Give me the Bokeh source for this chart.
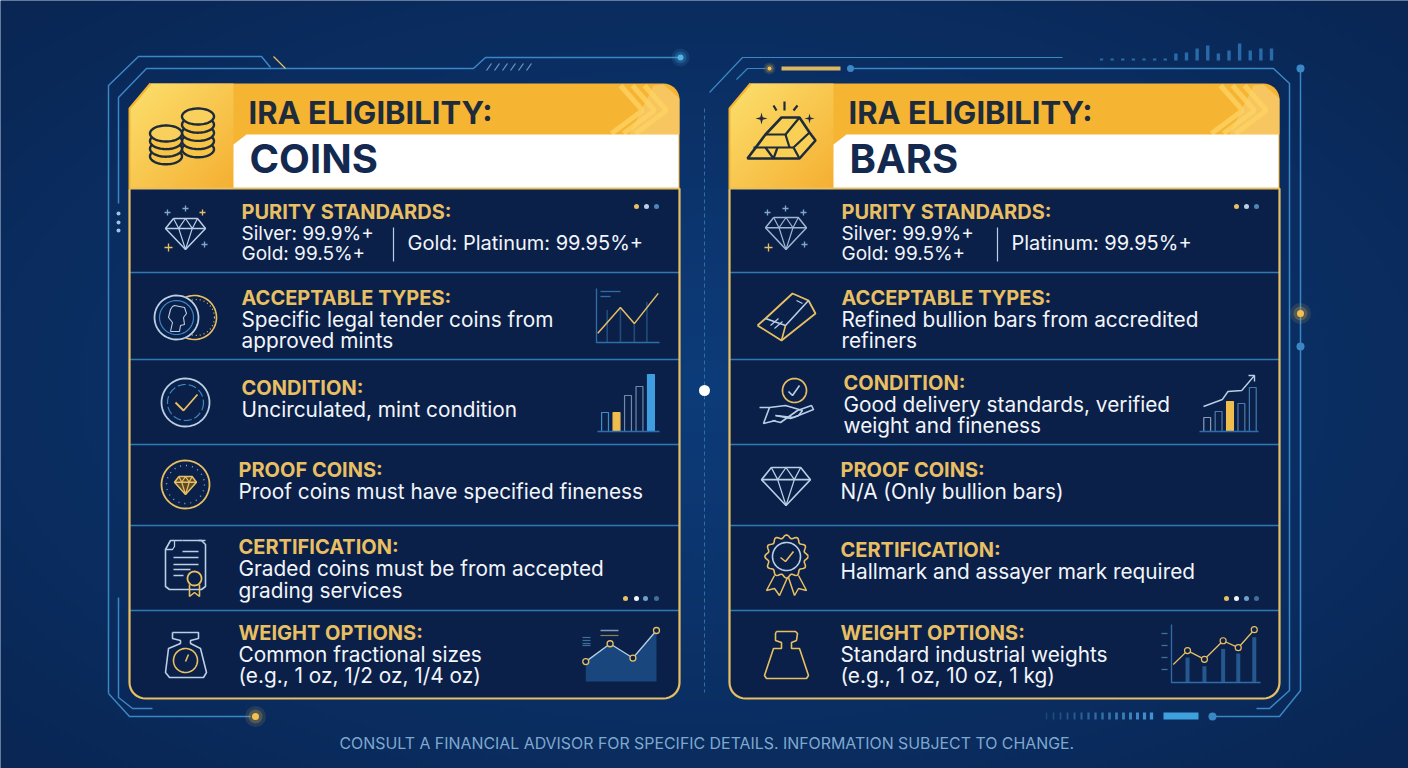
import numpy as np
from bokeh.core.properties import value
from bokeh.embed import file_html
from bokeh.models import Range1d
from bokeh.plotting import figure
from bokeh.resources import INLINE

# texts
footer = "CONSULT A FINANCIAL ADVISOR FOR SPECIFIC DETAILS. INFORMATION SUBJECT TO CHANGE."
title_line = "IRA ELIGIBILITY:"
left_title = "COINS"
right_title = "BARS"
left_heads = ["PURITY STANDARDS:", "ACCEPTABLE TYPES:", "CONDITION:", "PROOF COINS:", "CERTIFICATION:", "WEIGHT OPTIONS:"]
right_heads = ["PURITY STANDARDS:", "ACCEPTABLE TYPES:", "CONDITION:", "PROOF COINS:", "CERTIFICATION:", "WEIGHT OPTIONS:"]
left_body = [
    ["Silver: 99.9%+", "Gold: 99.5%+"],
    ["Specific legal tender coins from", "approved mints"],
    ["Uncirculated, mint condition"],
    ["Proof coins must have specified fineness"],
    ["Graded coins must be from accepted", "grading services"],
    ["Common fractional sizes", "(e.g., 1 oz, 1/2 oz, 1/4 oz)"],
]
right_body = [
    ["Silver: 99.9%+", "Gold: 99.5%+"],
    ["Refined bullion bars from accredited", "refiners"],
    ["Good delivery standards, verified", "weight and fineness"],
    ["N/A (Only bullion bars)"],
    ["Hallmark and assayer mark required"],
    ["Standard industrial weights", "(e.g., 1 oz, 10 oz, 1 kg)"],
]
left_side = "Gold: Platinum: 99.95%+"
right_side = "Platinum: 99.95%+"

# mini chart values
types_x = [2, 38, 60, 98]
types_y = [17, 65, 35, 91]
types_bars_x = [17, 38, 60, 80]
types_bars_y = [60, 65, 35, 75]
cond_left = [19, 19, 36, 45, 57]
weight_left_x = [3, 35, 65, 96]
weight_left_y = [39, 74, 46, 100]
cond_right = [14, 20, 30, 28, 44]
cond_right_line_x = [0, 37, 48, 75, 100]
cond_right_line_y = [25, 32, 40, 41, 56]
weight_right_x = [2, 18, 37, 58, 75, 93]
weight_right_y = [31, 55, 40, 72, 60, 91]
weight_right_bars_x = [18, 37, 58, 75, 93]
weight_right_bars_y = [43, 28, 58, 50, 78]
top_spark = [2, 2, 2, 2, 2, 2, 2, 7, 8, 12, 15, 7, 10, 17, 10, 12, 12]

BG = "#0b3068"
ROW = "#0b2049"
GOLD = "#e8bf62"
AMBER = "#f6b433"
WHITE = "#f2f5fa"
LIGHT = "#b9cfe6"
LINE = "#3b86c4"
SEP = "#2f79b6"
INK = "#1d2b3a"
NAVY = "#14294f"
FONT = "Inter"

p = figure(
    width=1408,
    height=768,
    x_range=(0, 1408),
    y_range=(768, 0),
    x_axis_location=None,
    y_axis_location=None,
    toolbar_location=None,
    output_backend="svg",
    min_border=0,
    outline_line_color=None,
    background_fill_color=BG,
    border_fill_color=BG,
)
p.grid.visible = False


def to_image(rgb, a):
    h, w = a.shape
    img = np.zeros((h, w), dtype=np.uint32)
    view = img.view(np.uint8).reshape((h, w, 4))
    view[..., :3] = rgb.astype(np.uint8)
    view[..., 3] = a
    return img


def gradient(w, h, stops, chamfer=0):
    # top-left to bottom-right blend, as an rgba picture
    yy, xx = np.mgrid[0:h, 0:w]
    t = (xx / max(w - 1, 1) + yy / max(h - 1, 1)) / 2
    c0, c1 = np.array(stops[0]), np.array(stops[1])
    rgb = c0[None, None, :] + (c1 - c0)[None, None, :] * t[..., None]
    a = np.full((h, w), 255)
    if chamfer:
        a[xx * 25 / 21 + yy < 25] = 0
    return to_image(rgb, a)


def radial(w, h, inner, outer):
    # page background, brighter in the middle; drawn small and stretched
    yy, xx = np.mgrid[0:h, 0:w]
    t = np.clip(np.hypot((xx / (w - 1) - 0.5) * 2, (yy / (h - 1) - 0.5) * 2) / 1.4, 0, 1)
    c0, c1 = np.array(inner), np.array(outer)
    rgb = c0[None, None, :] + (c1 - c0)[None, None, :] * t[..., None]
    return to_image(rgb, np.full((h, w), 255))


def line(xs, ys, color=LINE, w=1.5, alpha=1.0, dash="solid", **kw):
    p.line(xs, ys, line_color=color, line_width=w, line_alpha=alpha, line_dash=dash, **kw)


def patch(xs, ys, fill, stroke=None, w=1.5, alpha=1.0):
    p.patch(xs, ys, fill_color=fill, fill_alpha=alpha, line_color=stroke, line_width=w)


def ring(cx, cy, r, color=LIGHT, w=1.5, dash="solid", fill=None, ry=None):
    t = np.linspace(0, 2 * np.pi, 60)
    xs, ys = cx + r * np.cos(t), cy + (ry or r) * np.sin(t)
    if fill:
        patch(xs, ys, fill, color, w)
    else:
        line(xs, ys, color, w, dash=dash)


def dot(x, y, size, color, alpha=1.0):
    p.scatter([x], [y], size=size, fill_color=color, fill_alpha=alpha, line_color=None)


def glow(x, y, size, color):
    dot(x, y, size * 3, color, 0.12)
    dot(x, y, size * 2, color, 0.22)
    dot(x, y, size, color)


def words(x, y, s, size, color=WHITE, bold=False, font=FONT):
    p.text([x], [y], text=[s], text_color=color, text_font=value(font), text_font_size=f"{size}px",
           text_font_style="bold" if bold else "normal", text_baseline="middle", text_align="left")


def sparkle(x, y, r, color):
    xs = [x, x + r * .2, x + r, x + r * .2, x, x - r * .2, x - r, x - r * .2]
    ys = [y - r, y - r * .2, y, y + r * .2, y + r, y + r * .2, y, y - r * .2]
    patch(xs, ys, color)


def plus(x, y, r, color, w=1.5):
    line([x - r, x + r], [y, y], color, w)
    line([x, x], [y - r, y + r], color, w)


def diamond(cx, top, w, h, color=LIGHT, lw=1.5, fill=None):
    y1 = top + h * 0.32
    xs = [cx - w * .3, cx + w * .3, cx + w / 2, cx, cx - w / 2, cx - w * .3]
    ys = [top, top, y1, top + h, y1, top]
    if fill:
        patch(xs, ys, fill, None)
    line(xs, ys, color, lw)
    line([cx - w / 2, cx + w / 2], [y1, y1], color, lw)
    line([cx - w * .3, cx - w * .17, cx, cx + w * .17, cx + w * .3], [top, y1, top, y1, top], color, lw * .8)
    line([cx - w * .17, cx, cx + w * .17], [y1, top + h, y1], color, lw * .8)


def inset(name, x0, x1, ytop, ybot, xlim, ylim):
    # extra ranges so each little chart has its own scales inside a box of the page
    sx = (xlim[1] - xlim[0]) / (x1 - x0)
    sy = (ylim[1] - ylim[0]) / (ybot - ytop)
    p.extra_x_ranges[name] = Range1d(xlim[0] + (0 - x0) * sx, xlim[0] + (1408 - x0) * sx)
    p.extra_y_ranges[name] = Range1d(ylim[0] + (ybot - 768) * sy, ylim[0] + (ybot - 0) * sy)
    return dict(x_range_name=name, y_range_name=name)


# background
p.image_rgba(image=[radial(352, 192, (13, 60, 122), (9, 38, 84))], x=0, y=0, dw=1408, dh=768)


def panel(x0, head_title, heads, bodies, side, head_pos, body_pos, side_x, div_x):
    x1 = x0 + 550
    a = np.linspace(0, np.pi / 2, 10)
    r = 16
    # dark body with rounded bottom corners
    xs = [x0, x1] + list(x1 - r + r * np.cos(a)) + list(x0 + r - r * np.sin(a)) + [x0]
    ys = [188, 188] + list(698 - r + r * np.sin(a)) + list(698 - r + r * np.cos(a)) + [188]
    patch(xs, ys, ROW)
    # gold header
    tx = [x0 + 21, x1 - r] + list(x1 - r + r * np.sin(a)) + [x1, x0, x0]
    ty = [83, 83] + list(83 + r - r * np.cos(a)) + [188, 188, 108]
    patch(tx, ty, AMBER)
    patch([x1 - 26, x1 - r, x1, x1, x1 - 50], [85, 84, 98, 134, 134], "#f8ca6c", alpha=0.8)
    for cx in [x0 + 491, x0 + 503, x0 + 515]:
        line([cx, cx + 22, cx - 9], [85, 110, 133], "#fcd262", 5, alpha=0.8)
    p.image_rgba(image=[gradient(104, 105, [(252, 224, 110), (245, 176, 50)], chamfer=1)],
                 x=x0, y=83, dw=104, dh=105)
    patch([x0 + 104, x0 + 117, x1 - 1, x1 - 1, x0 + 104], [144, 134, 134, 188, 188], "#ffffff")
    words(x0 + 119, 112, title_line, 31, INK, True)
    words(x0 + 120, 158, head_title, 40, NAVY, True)
    # rows
    for y in [272, 359, 444, 525, 610]:
        line([x0, x1], [y, y], SEP, 1.5)
    line(xs, ys, GOLD, 2.2)
    line([x0, x0, x0 + 21], [188, 108, 83], AMBER, 2)
    for i, (head, hp, lines, bp) in enumerate(zip(heads, head_pos, bodies, body_pos)):
        words(x0 + hp[0], hp[1], head, 20, GOLD, True)
        for s, y in zip(lines, bp):
            words(x0 + hp[0], y, s, 19 if i == 0 else 20.8)
    line([div_x, div_x], [227, 261], LIGHT, 1.2)
    words(side_x, 242, side, 20)


left_heads_pos = [(112, 211), (112, 297), (112, 387), (109, 469), (109, 546), (109, 632)]
left_body_pos = [[233, 253], [319, 340], [409], [491], [568, 590], [654, 675]]
right_heads_pos = [(112, 211), (112, 297), (114, 382), (111, 469), (111, 549), (111, 632)]
right_body_pos = [[233, 253], [319, 340], [404, 425], [491], [571], [654, 675]]
panel(129, left_title, left_heads, left_body, left_side, left_heads_pos, left_body_pos, 407, 393)
panel(729, right_title, right_heads, right_body, right_side, right_heads_pos, right_body_pos, 1011, 997)

# frame lines, left
line([108, 108, 138, 261, 270], [693, 85, 56, 56, 67], LINE)
line([108, 129, 250], [693, 716, 716], LINE)
line([118, 118, 146, 473, 485, 680], [203, 97, 68, 68, 57, 57], LINE)
line([118, 118, 132, 152], [597, 697, 708, 708], LINE)
line([273, 285], [56, 68], GOLD, 1.2)
for sx in range(486, 534, 8):
    line([sx, sx + 5], [70, 63], "#6d9cc8", 1.2)
for dy in [213, 222, 230]:
    dot(118, dy, 4, "#9cc4e6")
glow(680, 57, 6, "#4fb4e6")
glow(255, 716, 7, "#f4c04e")

# frame lines, right
line([709, 742, 1062], [92, 57, 57], LINE, 1.2)
line([736, 747, 765], [79, 68, 68], LINE, 1.2)
line([850, 1273, 1289, 1289, 1269, 1256], [68, 68, 83, 690, 708, 708], LINE)
line([1300, 1300, 1279, 1212], [68, 690, 716, 716], LINE)
line([781, 840], [68, 68], GOLD, 4, alpha=0.95)
glow(769, 68, 4, "#f4c04e")
dot(850, 68, 7, LINE)
dot(1300, 68, 8, LINE)
glow(1300, 313, 7, "#f4c04e")
dot(1300, 346, 8, LINE)
dot(1212, 716, 8, LINE)
line([704, 704], [108, 692], "#2f6da8", 1, dash="4 3")
dot(704, 390, 11, "#ffffff")

# spark bars, top right
ix = inset("spark", 1101, 1271, 40, 60, (0, len(top_spark) - 1), (0, 20))
p.vbar(x=list(range(len(top_spark))), top=top_spark, bottom=0, width=0.32, fill_color="#2a6aa8", line_color=None, **ix)

# tick strip, bottom right
for i, sx in enumerate(range(1046, 1158, 7)):
    line([sx, sx], [712, 719], "#4a9bd8", 1.5 + i * 0.12, alpha=0.25 + i * 0.045)
patch([1163, 1198, 1198, 1163], [712, 712, 719, 719], "#3ea0dc")

words(339, 743, footer, 15.9, "#7fa8cf")

# header icons
for cx, top, n, step in [(197.5, 108, 5, 8.2), (165.5, 125, 4, 7.6)]:
    for i in range(n - 1, -1, -1):
        ring(cx, top + 8 + i * step, 16, INK, 2.4, fill="#f7c445" if i else "#f9d05c", ry=8)

patch([747, 765, 781, 799, 809, 815, 799], [158, 134, 117, 117, 132, 140, 158], "#f9cf55", INK, 2.6)
line([765, 785, 799], [134, 134, 117], INK, 2.2)
line([785, 789], [134, 147], INK, 2.2)
line([753, 793], [147, 147], INK, 2.2)
line([765, 773, 777], [147, 158, 147], INK, 2.2)
line([793, 809], [147, 132], INK, 2.2)
line([793, 799], [147, 158], INK, 2.2)
line([784, 784], [101, 110], INK, 2.2)
line([773, 776], [105, 110], INK, 2.2)
line([797, 793], [105, 110], INK, 2.2)
sparkle(761, 118, 6, INK)
sparkle(809, 118, 5, INK)

# small dot groups in the rows
for xs_, y, cols in [
    ([636, 646, 656], 206, [GOLD, LIGHT, "#4f86b8"]),
    ([1236, 1246, 1256], 206, [GOLD, LIGHT, "#4f86b8"]),
    ([625, 636, 645, 656], 598, [GOLD, WHITE, "#6fa0cc", "#3f6f9c"]),
    ([1226, 1236, 1246, 1256], 598, [GOLD, WHITE, "#6fa0cc", "#3f6f9c"]),
]:
    for x, c in zip(xs_, cols):
        dot(x, y, 5, c)

# left icons
diamond(185, 218, 40, 31, LIGHT)
for x, y, r, c in [(167, 212, 3, "#7fa8cf"), (185, 208, 3, "#7fa8cf"), (202, 212, 3, GOLD), (168, 247, 4, GOLD), (204, 244, 3, "#7fa8cf")]:
    plus(x, y, r, c, 1.3)

ring(194, 317, 22, GOLD, 1.6)
ring(196, 317, 18, GOLD, 1.2, dash="1 3")
ring(176, 317, 22, LIGHT, 1.8, fill=ROW)
ring(176, 317, 17, LINE, 1.2)
line([170, 172, 168, 170, 172, 174, 184, 186, 183, 184, 180, 179, 170], [331, 322, 317, 309, 306, 305, 307, 313, 317, 324, 325, 331, 331], LIGHT, 1.1)

ring(185, 402, 24, LIGHT, 1.8)
ring(185, 402, 18, LINE, 1.2, dash="8 3")
line([175, 183, 197], [402, 410, 394], GOLD, 1.8)

ring(185, 484, 24, GOLD, 1.8)
ring(185, 484, 19, "#7fa8cf", 1.4, dash="1 5")
diamond(185, 476, 22, 18, GOLD, 1.5, fill="#5c4a2a")

line([182, 170, 165, 165, 169, 201, 205, 205, 201, 198], [540, 540, 549, 586, 589, 589, 586, 544, 540, 540], LIGHT, 1.6)
line([182, 205], [540, 540], LIGHT, 1.6)
line([165, 172, 174, 174], [549, 549, 546, 540], LIGHT, 1.3)
for y, x0, x1 in [(551, 182, 198), (557, 173, 198), (564, 173, 198), (569, 173, 190), (575, 173, 183)]:
    line([x0, x1], [y, y], LIGHT, 1.4)
ring(194, 578, 7, GOLD, 1.8)
line([189, 189, 194, 199, 199], [584, 596, 592, 596, 584], GOLD, 1.6)

line([172, 198, 198, 190, 190, 200, 206, 203, 169, 165, 168, 180, 180, 172, 172], [632, 632, 638, 640, 643, 648, 672, 677, 677, 672, 648, 643, 640, 638, 632], LIGHT, 1.6)
ring(185, 660, 12, GOLD, 1.6)
line([185, 188], [661, 654], GOLD, 1.6)

# right icons
diamond(785.5, 217, 41, 32, "#9db6d2")
for x, y, r, c in [(767, 212, 3, "#7fa8cf"), (785, 208, 3, "#7fa8cf"), (803, 212, 3, "#7fa8cf"), (768, 247, 4, GOLD), (804, 244, 3, "#7fa8cf")]:
    plus(x, y, r, c, 1.3)

line([757, 765, 792, 808, 815, 781, 757], [325, 318, 293, 300, 313, 340, 325], GOLD, 1.8)
line([765, 785, 808], [318, 325, 300], LIGHT, 1.6)
line([785, 781], [325, 340], GOLD, 1.6)
line([770, 778], [325, 318], LIGHT, 1.2)
line([774, 782], [328, 321], LIGHT, 1.2)
line([796, 802], [300, 303], LIGHT, 1.2)

ring(794, 390, 12, GOLD, 1.7)
line([788, 792, 799], [391, 395, 385], LIGHT, 1.6)
line([759, 769, 763, 775], [407, 407, 423, 420], LIGHT, 1.6)
line([769, 785, 802, 798, 790, 775], [407, 405, 410, 415, 418, 415], LIGHT, 1.6)
line([775, 793, 813, 811, 797, 780, 772], [415, 417, 409, 405, 410, 422, 420], LIGHT, 1.6)

diamond(785.5, 467, 49, 38, "#b9cfe6", 1.6)

tc = np.linspace(0, 2 * np.pi, 121)
rc = 20 + 1.6 * np.cos(12 * tc)
line(786 + rc * np.cos(tc), 556 + rc * np.sin(tc), GOLD, 1.6)
ring(786, 556, 14, LIGHT, 1.6)
line([780, 785, 793], [557, 561, 551], GOLD, 1.6)
line([774, 766, 774, 779, 787], [575, 590, 588, 595, 577], GOLD, 1.5)
line([788, 794, 798, 806, 798], [577, 595, 588, 590, 575], GOLD, 1.5)

line([776, 795, 797, 796, 791, 791, 799, 808, 806, 766, 764, 773, 781, 781, 775, 775, 776],
     [631, 631, 633, 640, 642, 648, 648, 675, 678, 678, 675, 648, 648, 642, 640, 633, 631], GOLD, 1.6)

# chart: left, acceptable types
ix = inset("c1", 596, 659, 288, 342, (0, 100), (0, 100))
p.vbar(x=types_bars_x, top=types_bars_y, bottom=0, width=2.5, fill_color="#2a5f92", fill_alpha=0.7, line_color=None, **ix)
line([0, 0, 100], [100, 0, 0], "#2f6da8", 1.3, **ix)
line(types_x, types_y, GOLD, 1.5, **ix)
line([600, 620], [291, 291], "#2f6da8", 1.3)
line([600, 610], [296, 296], "#2f6da8", 1.3)

# chart: left, condition
ix = inset("c2", 598.8, 656.2, 371, 431, (-0.5, 4.5), (0, 60))
idx = list(range(5))
p.vbar(x=idx, top=cond_left, bottom=0, width=0.6,
       fill_color=["#0b2049", "#f0be4e", "#0b2049", "#0b2049", "#3f9de0"],
       line_color=["#3f8cc8", "#f0be4e", "#6f8aa8", "#6f8aa8", "#3f9de0"], line_width=1.2, **ix)
line([597, 659], [431, 431], "#2f6da8", 1.5)

# chart: left, weight
ix = inset("c3", 583, 659, 630, 681, (0, 100), (0, 100))
p.varea(x=weight_left_x, y1=[0] * 4, y2=weight_left_y, fill_color="#1c4f86", fill_alpha=0.85, **ix)
line(weight_left_x, weight_left_y, LIGHT, 1.3, **ix)
p.scatter(weight_left_x, weight_left_y, size=6, fill_color=ROW, line_color=GOLD, line_width=1.3, **ix)
line([600, 618], [630, 630], LIGHT, 1.5, alpha=0.7)
line([600, 618], [635, 635], GOLD, 1.2, alpha=0.6)
for y in [637, 640, 643, 645]:
    line([582, 590], [y, y], "#3f6f9c", 1.2)

# chart: right, condition
ix = inset("c4", 1201, 1258, 371, 431, (-0.5, 4.5), (0, 60))
p.vbar(x=idx, top=cond_right, bottom=0, width=0.6,
       fill_color=["#0b2049", "#0b2049", "#f0be4e", "#0b2049", "#0b2049"],
       line_color=["#8a9db2", "#4f7ca8", "#f0be4e", "#4f7ca8", "#3f7cb0"], line_width=1.2, **ix)
line([1199, 1258], [431, 431], "#2f6da8", 1.5)
ix = inset("c4l", 1203, 1254, 375, 431, (0, 100), (0, 56))
line(cond_right_line_x, cond_right_line_y, LIGHT, 1.4, **ix)
line([1248, 1254, 1254], [375, 375, 381], LIGHT, 1.4)

# chart: right, weight
ix = inset("c5", 1171, 1260, 624, 682, (0, 100), (0, 100))
p.vbar(x=weight_right_bars_x, top=weight_right_bars_y, bottom=0, width=4.5, fill_color="#25588e", line_color=None, **ix)
line([0, 0, 100], [100, 0, 0], "#2f6da8", 1.3, **ix)
line(weight_right_x, weight_right_y, GOLD, 1.3, **ix)
p.scatter(weight_right_x[1:], weight_right_y[1:], size=6, fill_color=ROW, line_color=GOLD, line_width=1.2, **ix)
for y in [633, 645, 657, 669]:
    line([1161, 1167], [y, y], "#3f6f9c", 1.3)

open("out.html", "w").write(file_html(p, INLINE))
